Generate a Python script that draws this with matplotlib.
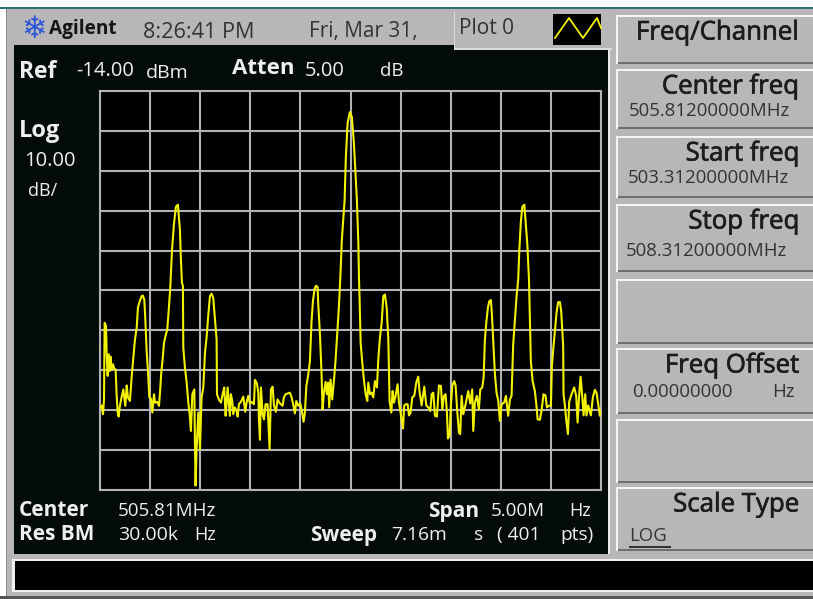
import matplotlib
matplotlib.use('Agg')
import matplotlib.pyplot as plt
import matplotlib.patheffects as pe
from matplotlib.patches import Rectangle

plt.rcParams['font.family'] = ['Open Sans', 'DejaVu Sans']

# trace readings: point number out of 401, level in dBm
trace_pts = [0, 1.3, 2.4, 3.2, 3.7, 4.8, 5.3, 6.1, 6.9, 7.7, 8.5, 9.3, 10.4, 11.4, 12.5, 13.3, 14.1, 14.9, 15.7, 16.8,
    17.8, 18.6, 19.4, 20.2, 21.3, 22.3, 23.9, 25.3, 26.6, 27.9, 29.3, 30.3, 31.7, 33.3, 34.3, 35.4, 36.2, 37.2, 38.3, 39.4,
    40.7, 41.8, 43.1, 43.9, 45.5, 47.1, 47.9, 48.9, 50, 51.1, 52.4, 53.7, 54.8, 56.1, 57.5, 59, 60.6, 62.2, 63.8, 64.6,
    65.4, 66.2, 66.5, 67.8, 69.2, 70.5, 71.6, 72.6, 73.7, 75.3, 75.8, 76.3, 77.1, 78.5, 79.8, 81.1, 82.5, 83.8, 85.1, 86.5,
    87.8, 89.1, 90.4, 91.8, 93.1, 93.4, 95, 96.6, 97.9, 99.2, 100.3, 101.1, 101.9, 102.9, 103.7, 104.5, 105.6, 106.4, 107.7, 109.1,
    109.9, 110.9, 112.5, 114.4, 116, 117, 118.4, 119.7, 121, 122.9, 123.7, 125.3, 126.4, 126.9, 127.7, 128.5, 129.8, 130.9, 132.2, 133.8,
    134.6, 135.4, 136.5, 137.8, 138.9, 140.4, 141.8, 143.6, 145.8, 146.8, 148.2, 149.8, 151.6, 153, 154.5, 155.6, 156.7, 158.3, 159.9, 161.5,
    162.5, 163.6, 164.7, 166.3, 167.6, 168.9, 170, 171.3, 172.4, 173.7, 174.2, 175.6, 176.9, 177.7, 178.8, 180.1, 181.1, 182.2, 183, 184.1,
    185.4, 187, 188.1, 189.4, 190.7, 191.8, 193.1, 195.3, 196.3, 197.7, 199.5, 201.1, 202.7, 204.3, 205.1, 206.3, 206.8, 207.3, 208.1, 209.4,
    210.8, 212.1, 213.4, 214.2, 215.6, 216.9, 218.2, 219.5, 221.1, 222.2, 223.5, 224.9, 226.2, 227.5, 228.9, 230.2, 231.2, 232.6, 233.6, 234.7,
    236, 237.6, 238.7, 239.8, 240.8, 241.9, 242.9, 244.3, 245.6, 246.7, 248, 249.3, 250.9, 252.5, 254.1, 255.2, 256.8, 258.9, 260.5, 262.1,
    263.7, 264.8, 266.1, 267.4, 269, 270.6, 272.2, 273.3, 274.6, 275.9, 277, 277.8, 279.1, 280.2, 281.3, 282.8, 283.9, 285.2, 286.6, 287.6,
    288.7, 290, 291.9, 294, 295.6, 297.2, 298, 299.3, 300.9, 302.5, 303.6, 305.2, 306.3, 307.3, 308.4, 309.7, 310.8, 312.1, 312.9, 314,
    315.3, 316.6, 318, 319.3, 320.6, 322.7, 324.1, 325.9, 327.3, 328.6, 329.9, 331.3, 332.6, 333.9, 334.8, 336, 337.2, 338.8, 340, 341.2,
    342.5, 344, 345.4, 347.2, 348.6, 349.4, 351.2, 352.5, 354.1, 355.7, 356.8, 358.4, 360, 360.8, 362.1, 363.4, 364.5, 365.8, 367.2, 368.2,
    369.8, 370.1, 371.2, 372.2, 373.6, 374.6, 376.5, 378.6, 380.2, 381.3, 382.6, 383.7, 385, 386.1, 387.4, 388.4, 389.8, 391.9, 393.5, 395.1,
    396.4, 397.8, 399.1, 400]
trace_dbm = [-93.3, -92.8, -95, -91.3, -72.1, -72.9, -79.6, -85.4, -80, -84.2, -80.6, -83.8, -82.5, -83.6, -83.8, -90.4, -94.6, -95.6, -93.3, -91.4,
    -90, -88.8, -90.8, -92.9, -87.8, -90.8, -91.7, -85.6, -80.8, -76.3, -73.3, -68.3, -66.7, -65.4, -65.3, -66.4, -71.4, -78.9, -84.2, -90.8,
    -91.1, -94.6, -90, -92.1, -91.9, -92.9, -89.6, -84.6, -81.3, -77.1, -75.3, -73.8, -69.2, -63.3, -53.8, -47.5, -43, -42.5, -48.8, -56.3,
    -62, -62.9, -78.3, -83.3, -87.1, -92.1, -95, -99.2, -90, -88.8, -102.1, -112.9, -103.8, -94.6, -103.8, -90.8, -88.3, -79.6, -75.8, -70,
    -65.4, -64.8, -65.8, -71.3, -76.3, -90, -91.4, -92.1, -90, -88.3, -95.4, -92.1, -88.3, -92.1, -95.4, -90, -91.7, -95, -93.3, -94.2,
    -95.6, -92.5, -91.9, -90.6, -94.4, -92.1, -90.4, -92.3, -91.9, -92.5, -86.4, -87.3, -89.6, -96.3, -101.4, -88.3, -95, -96.3, -92.5, -92.5,
    -97.9, -103.8, -88.8, -88.1, -92.8, -94.4, -91.3, -92.3, -92.9, -90.8, -90, -89.8, -89.6, -90.8, -92.9, -94.8, -91.7, -92.9, -92.3, -94.8,
    -96.9, -94.6, -88.1, -85, -81.7, -71.7, -66.7, -63.6, -62.8, -63.1, -67.1, -75, -85, -93.8, -89.6, -86.9, -90, -87.1, -93.3, -86.3,
    -91.3, -85.8, -81.3, -75, -68.3, -61.3, -51.3, -41.3, -30.5, -22, -19.3, -20.5, -27, -36.3, -41.3, -52.5, -61.3, -66.7, -77.1, -82.1,
    -86.7, -90, -91.7, -87.1, -90, -89.6, -90.8, -86.7, -88.3, -81.3, -75.8, -72.1, -65.4, -65, -68.3, -76.3, -91.7, -94.6, -89.2, -92.1,
    -90.4, -87.5, -92.1, -94.2, -96.3, -98.6, -92.8, -92.5, -92.5, -95.3, -94.6, -90.8, -90.4, -87.1, -85.6, -89.6, -92.8, -88.1, -92.8, -93.3,
    -94.2, -90, -89.6, -95.4, -95.6, -87.8, -87.9, -93.8, -90.4, -90, -94.6, -101.1, -100.4, -92.5, -87.8, -86.7, -87.8, -94.2, -99.6, -100,
    -90.4, -95, -92.5, -89.2, -92.3, -88.8, -99.2, -92.1, -90.4, -93.8, -88.8, -88.3, -85.8, -76.3, -72.1, -68.3, -66.7, -66.4, -70, -77.1,
    -85, -89.6, -91.7, -96.7, -92.5, -92.1, -90.4, -95.4, -91.3, -90.4, -77.5, -71.3, -65.4, -61.3, -53.8, -46.8, -43, -42.5, -47.5, -52.5,
    -61.3, -81.7, -86.7, -89.2, -93.3, -96.3, -96.4, -94.2, -90, -90.3, -93.3, -92.9, -92.9, -82.9, -77.9, -73.3, -69.6, -66.9, -66.9, -69.2,
    -77.9, -90, -92.9, -96.3, -100, -91.9, -90, -88.3, -90.4, -97.1, -90, -85.6, -90.4, -95.3, -90, -95.3, -92.8, -95.3, -90.8, -88.9,
    -89.6, -92.5, -95.4, -94]

ref_level = -14
db_per_div = 10
n_div = 10

header_text = ['8:26:41 PM', 'Fri, Mar 31,', 'Plot 0']
softkey_titles = ['Freq/Channel', 'Center freq', 'Start freq', 'Stop freq', '', 'Freq Offset', '', 'Scale Type']

GRAY = '#b9b6b9'
DARK = '#040c08'
GRID = '#b2b2b2'
YEL = '#f2f200'
INK = '#1c1c1c'
SOFT = '#333333'

fig = plt.figure(figsize=(8.13, 5.99), dpi=100, facecolor=GRAY)

# whole window in pixels, for the instrument panel around the plot
bg = fig.add_axes([0, 0, 1, 1])
bg.set_xlim(0, 813)
bg.set_ylim(599, 0)
bg.axis('off')

def box(x, y, w, h, c, z=1):
    bg.add_patch(Rectangle((x, y), w, h, fc=c, ec='none', zorder=z))

box(0, 0, 813, 7, 'white')
box(0, 7, 813, 2, '#2a7272')
box(0, 9, 6, 590, 'white')
box(6, 9, 1, 590, '#8a8a8a')
box(0, 596, 813, 3, '#555555')
box(14, 45, 595, 509, DARK)
box(608, 14, 2, 540, '#e8e8e8')

# plot box top right
box(454, 12, 158, 38, GRAY, 2)
box(454, 12, 1, 38, '#dddddd', 2)
box(454, 48, 158, 2, '#dddddd', 2)
box(553, 14, 48, 31, 'black', 3)
bg.plot([555, 569, 583, 597, 601], [38, 18, 38, 18, 28], color=YEL, lw=1.3, zorder=4)

# softkeys
key_tops = [15, 69, 136, 204, 279, 348, 419, 487]
key_bottoms = [64, 129, 198, 272, 344, 414, 483, 551]
for top, bottom in zip(key_tops, key_bottoms):
    box(616, top, 197, bottom - top, '#f4f4f4')
    box(618, top + 2, 195, bottom - top - 2, GRAY, 2)
    box(618, bottom - 2, 195, 2, '#6e6e6e', 3)
for top, title in zip(key_tops, softkey_titles):
    if title:
        t = bg.text(800, top + 18, title, ha='right', va='center', fontsize=18.6, color=INK, zorder=5)
        t.set_path_effects([pe.withStroke(linewidth=0.5, foreground=INK)])

for x, y, s in [(629, 111, '505.81200000MHz'), (628, 178, '503.31200000MHz'), (626, 251, '508.31200000MHz')]:
    bg.text(x, y, s, va='center', fontsize=13.4, color=SOFT, zorder=5)
bg.text(632, 392, '0.00000000', va='center', fontsize=13.4, color=SOFT, zorder=5)
bg.text(795, 392, 'Hz', ha='right', va='center', fontsize=13.4, color=SOFT, zorder=5)
bg.text(629, 536, 'LOG', va='center', fontsize=13.4, color=SOFT, zorder=5)
box(629, 546, 42, 1.5, SOFT, 5)

# message bar
box(12, 559, 801, 33, '#f0f0f0')
box(15, 561, 798, 29, 'black', 2)

# header
bg.text(34, 30, '❄', ha='center', va='center', fontsize=22, color='#2b55d8', zorder=5)
bg.text(49, 29, 'Agilent', va='center', fontsize=13.7, fontweight='bold', color='#151515', zorder=5)
bg.text(143, 32, header_text[0], va='center', fontsize=15.6, color=SOFT, zorder=5)
bg.text(309, 32, header_text[1], va='center', fontsize=15, color=SOFT, zorder=5)
bg.text(459, 29, header_text[2], va='center', fontsize=15, color=SOFT, zorder=5)

# readouts on the dark panel
def label(x, y, s, bold=False, size=10.5):
    bg.text(x, y, s, va='center', fontsize=size, color='#efefef', fontweight='bold' if bold else 'normal', zorder=5)

label(19, 72, 'Ref', True, 16.5)
label(76, 71, '-14.00', size=14.5)
label(146, 73, 'dBm', size=14)
label(232, 69, 'Atten', True, 16)
label(305, 71, '5.00', size=14.5)
label(380, 71, 'dB', size=13.5)
label(19, 131, 'Log', True, 17)
label(24, 161, '10.00', size=14.5)
label(28, 191, 'dB/', size=13)
label(19, 511, 'Center', True, 15)
label(118, 511, '505.81MHz', size=13.5)
label(428, 511, 'Span', True, 15)
label(491, 511, '5.00M', size=13.5)
label(569, 511, 'Hz', size=13)
label(19, 535, 'Res BM', True, 15)
label(118, 535, '30.00k', size=14)
label(194, 535, 'Hz', size=13)
label(310, 535, 'Sweep', True, 15)
label(391, 535, '7.16m', size=13.8)
label(474, 535, 's', size=13.8)
label(497, 535, '( 401', size=13.8)
label(560, 535, 'pts)', size=13.8)

# trace area
ax = fig.add_axes([100 / 813, 1 - 490 / 599, 501 / 813, 399 / 599], facecolor='black', zorder=6)
ax.set_xlim(0, 400)
ax.set_ylim(ref_level - n_div * db_per_div, ref_level)
ax.set_xticks([i * 400 / n_div for i in range(n_div + 1)])
ax.set_yticks([ref_level - i * db_per_div for i in range(n_div + 1)])
ax.tick_params(length=0, labelbottom=False, labelleft=False)
ax.grid(True, color=GRID, lw=1.5)
ax.set_axisbelow(True)
for s in ax.spines.values():
    s.set_color(GRID)
    s.set_linewidth(1.5)
ax.plot(trace_pts, trace_dbm, color=YEL, lw=1.5, zorder=3)

fig.savefig('out.png', dpi=100, facecolor=GRAY)
